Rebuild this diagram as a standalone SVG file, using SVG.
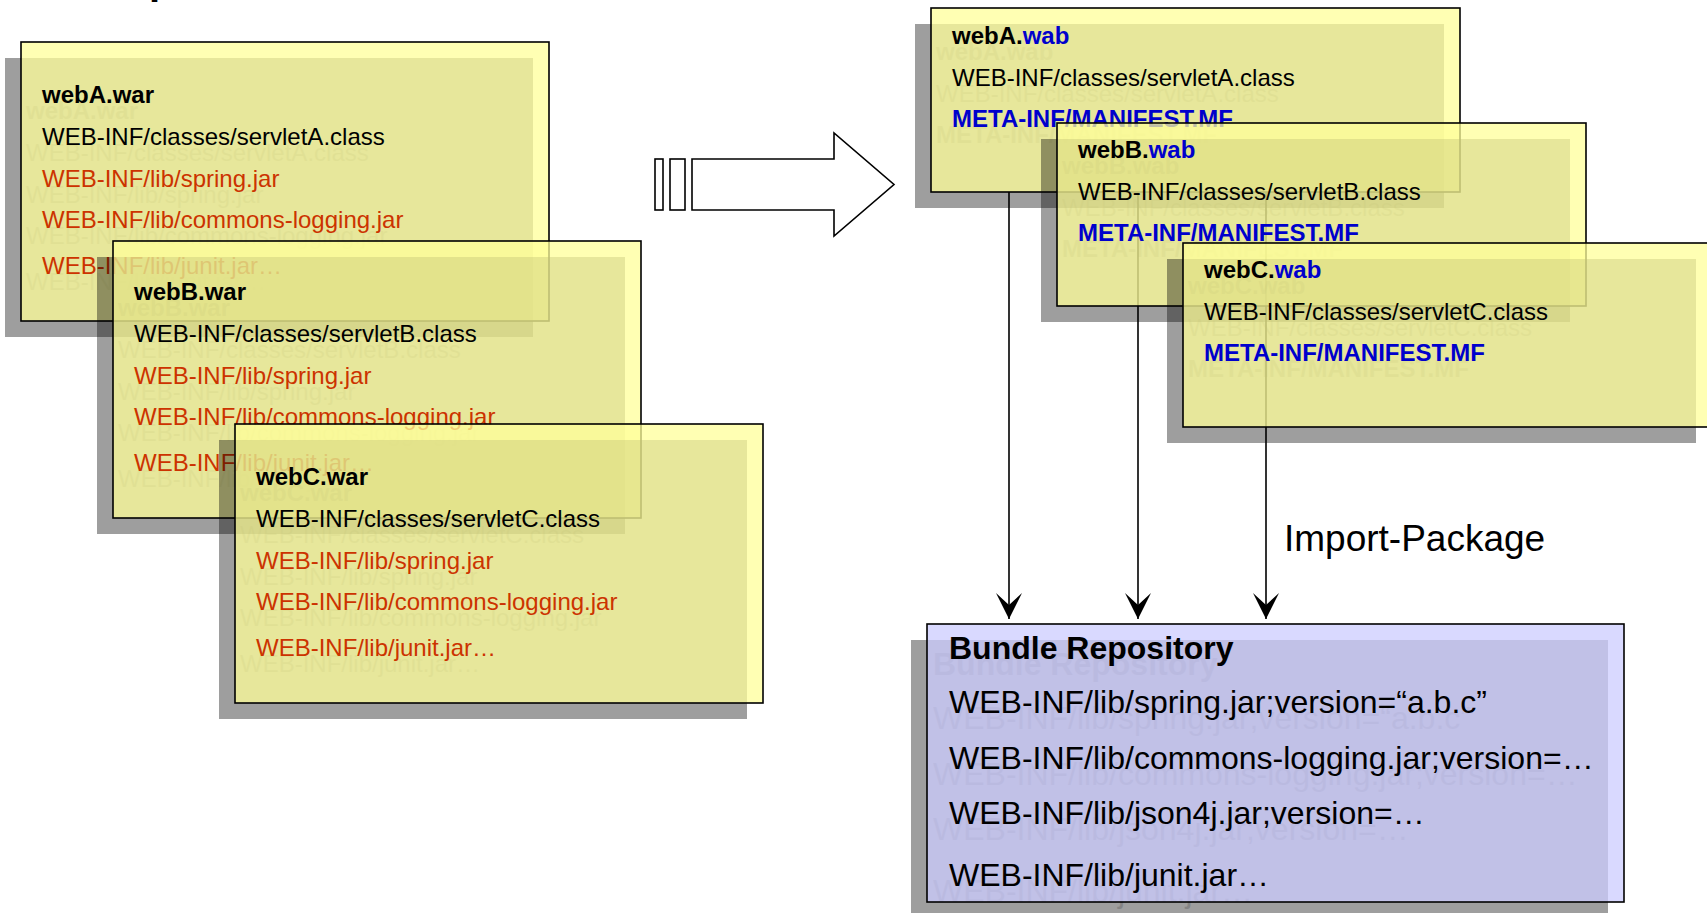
<svg xmlns="http://www.w3.org/2000/svg" xmlns:xlink="http://www.w3.org/1999/xlink" width="1707" height="913" viewBox="0 0 1707 913">
<style>
.t{font-family:"Liberation Sans",Arial,Helvetica,sans-serif;font-size:24px;fill:var(--c-blk,#000)}
.b{font-weight:bold}
.red{fill:var(--c-red,#CC3300)}
.blue{fill:var(--c-blue,#0000CC)}
.big{font-size:32px}
.shadow{fill:#000;fill-opacity:.38}
.ghost{--c-red:#000;--c-blue:#000;--c-blk:#000;opacity:.16}
.box{fill:#FFFF99;fill-opacity:.75;stroke:#000;stroke-width:1.6}
.repo{fill:#CCCCFF;fill-opacity:.75;stroke:#000;stroke-width:1.6}
.conn{stroke:#000;stroke-width:1.6;fill:none;marker-end:url(#ah)}
.outline{fill:#fff;stroke:#000;stroke-width:1.6}
</style>
<defs>
<marker id="ah" viewBox="0 0 26 26" refX="26" refY="13" markerWidth="26" markerHeight="26" markerUnits="userSpaceOnUse" orient="auto">
<path d="M0,0 L26,13 L0,26 L12,13 Z" fill="#000"/>
</marker>
</defs>
<rect width="1707" height="913" fill="#fff"/>
<text class="t b" x="149" y="-6" style="font-size:40px">p</text>

<g id="webA-war">
<rect class="shadow" x="5" y="58" width="528" height="279"/>
<use href="#txt-webA-war" x="-16" y="16" class="ghost"/>
<rect class="box" x="21" y="42" width="528" height="279"/>
<g id="txt-webA-war">
<text class="t b" x="42" y="103">webA.war</text>
<text class="t" x="42" y="145">WEB-INF/classes/servletA.class</text>
<text class="t red" x="42" y="187">WEB-INF/lib/spring.jar</text>
<text class="t red" x="42" y="228">WEB-INF/lib/commons-logging.jar</text>
<text class="t red" x="42" y="274">WEB-INF/lib/junit.jar…</text>
</g>
</g>

<g id="webB-war">
<rect class="shadow" x="97" y="257" width="528" height="277"/>
<use href="#txt-webB-war" x="-16" y="16" class="ghost"/>
<rect class="box" x="113" y="241" width="528" height="277"/>
<g id="txt-webB-war">
<text class="t b" x="134" y="300">webB.war</text>
<text class="t" x="134" y="342">WEB-INF/classes/servletB.class</text>
<text class="t red" x="134" y="384">WEB-INF/lib/spring.jar</text>
<text class="t red" x="134" y="425">WEB-INF/lib/commons-logging.jar</text>
<text class="t red" x="134" y="471">WEB-INF/lib/junit.jar…</text>
</g>
</g>

<g id="webC-war">
<rect class="shadow" x="219" y="440" width="528" height="279"/>
<use href="#txt-webC-war" x="-16" y="16" class="ghost"/>
<rect class="box" x="235" y="424" width="528" height="279"/>
<g id="txt-webC-war">
<text class="t b" x="256" y="485">webC.war</text>
<text class="t" x="256" y="527">WEB-INF/classes/servletC.class</text>
<text class="t red" x="256" y="569">WEB-INF/lib/spring.jar</text>
<text class="t red" x="256" y="610">WEB-INF/lib/commons-logging.jar</text>
<text class="t red" x="256" y="656">WEB-INF/lib/junit.jar…</text>
</g>
</g>

<g id="transform-arrow">
<rect class="outline" x="655" y="159" width="8" height="51"/>
<rect class="outline" x="670" y="159" width="15" height="51"/>
<polygon class="outline" points="692,159 834,159 834,133 894,184.5 834,236 834,210 692,210"/>
</g>

<g id="connectors">
<line class="conn" x1="1009" y1="192" x2="1009" y2="619"/>
<line class="conn" x1="1138" y1="192" x2="1138" y2="619"/>
<line class="conn" x1="1266" y1="192" x2="1266" y2="619"/>
<text class="t" x="1284" y="551" style="font-size:37px">Import-Package</text>
</g>

<g id="webA-wab">
<rect class="shadow" x="915" y="24" width="529" height="184"/>
<use href="#txt-webA-wab" x="-16" y="16" class="ghost"/>
<rect class="box" x="931" y="8" width="529" height="184"/>
<g id="txt-webA-wab">
<text class="t b" x="952" y="44">webA.<tspan class="blue">wab</tspan></text>
<text class="t" x="952" y="86">WEB-INF/classes/servletA.class</text>
<text class="t b blue" x="952" y="127">META-INF/MANIFEST.MF</text>
</g>
</g>

<g id="webB-wab">
<rect class="shadow" x="1041" y="139" width="529" height="183"/>
<use href="#txt-webB-wab" x="-16" y="16" class="ghost"/>
<rect class="box" x="1057" y="123" width="529" height="183"/>
<g id="txt-webB-wab">
<text class="t b" x="1078" y="158">webB.<tspan class="blue">wab</tspan></text>
<text class="t" x="1078" y="200">WEB-INF/classes/servletB.class</text>
<text class="t b blue" x="1078" y="241">META-INF/MANIFEST.MF</text>
</g>
</g>

<g id="webC-wab">
<rect class="shadow" x="1167" y="259" width="529" height="184"/>
<use href="#txt-webC-wab" x="-16" y="16" class="ghost"/>
<rect class="box" x="1183" y="243" width="529" height="184"/>
<g id="txt-webC-wab">
<text class="t b" x="1204" y="278">webC.<tspan class="blue">wab</tspan></text>
<text class="t" x="1204" y="320">WEB-INF/classes/servletC.class</text>
<text class="t b blue" x="1204" y="361">META-INF/MANIFEST.MF</text>
</g>
</g>

<g id="bundle-repository">
<rect class="shadow" x="911" y="640" width="697" height="278"/>
<use href="#txt-bundle" x="-16" y="16" class="ghost"/>
<rect class="repo" x="927" y="624" width="697" height="278"/>
<g id="txt-bundle">
<text class="t b big" x="949" y="659">Bundle Repository</text>
<text class="t big" x="949" y="713">WEB-INF/lib/spring.jar;version=“a.b.c”</text>
<text class="t big" x="949" y="769">WEB-INF/lib/commons-logging.jar;version=…</text>
<text class="t big" x="949" y="824">WEB-INF/lib/json4j.jar;version=…</text>
<text class="t big" x="949" y="886">WEB-INF/lib/junit.jar…</text>
</g>
</g>
</svg>
